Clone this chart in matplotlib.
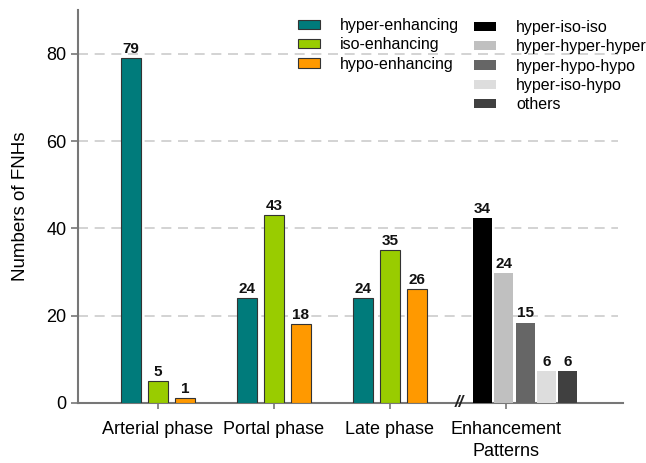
import numpy as np
import matplotlib
matplotlib.use("Agg")
import matplotlib.pyplot as plt
from matplotlib.patches import Patch

plt.rcParams['font.family'] = ['Liberation Sans', 'DejaVu Sans']

# phase data
phases = ['Arterial phase', 'Portal phase', 'Late phase']
hyper = [79, 24, 24]
iso = [5, 43, 35]
hypo = [1, 18, 26]

# enhancement patterns (bar heights as drawn, labels as printed)
patterns = ['hyper-iso-iso', 'hyper-hyper-hyper', 'hyper-hypo-hypo', 'hyper-iso-hypo', 'others']
pattern_heights = [42.3, 29.7, 18.4, 7.2, 7.2]
pattern_labels = ['34', '24', '15', '6', '6']

phase_colors = ['#007b7b', '#99cc00', '#ff9900']
pattern_colors = ['#000000', '#c0c0c0', '#666666', '#dddddd', '#404040']

fig = plt.figure(figsize=(6.46, 4.63), dpi=100)
ax = fig.add_axes([0.121, 0.130, 0.843, 0.848])

x = np.arange(len(phases))
w = 0.172
off = 0.233
series = [hyper, iso, hypo]
for i, vals in enumerate(series):
    xs = x + (i - 1) * off
    ax.bar(xs, vals, w, color=phase_colors[i], edgecolor='#333333', linewidth=0.8, zorder=3)
    for xi, v in zip(xs, vals):
        ax.text(xi, v + 0.5, str(v), ha='center', va='bottom', fontsize=11,
                fontweight='bold', color='#111111', zorder=4)

px = 3 - 0.203 + np.arange(len(patterns)) * 0.185
ax.bar(px, pattern_heights, 0.164, color=pattern_colors, linewidth=0, zorder=3)
for xi, h, lab in zip(px, pattern_heights, pattern_labels):
    ax.text(xi, h + 0.5, lab, ha='center', va='bottom', fontsize=11,
            fontweight='bold', color='#111111', zorder=4)

ax.set_xlim(-0.69, 4.01)
ax.set_ylim(0, 90)
ax.set_yticks([0, 20, 40, 60, 80])
ax.set_xticks([0, 1, 2, 3])
ax.set_xticklabels(phases + ['Enhancement\nPatterns'], fontsize=13, linespacing=1.4)
ax.tick_params(axis='y', labelsize=13, color='#777777', length=5, width=1.2)
ax.tick_params(axis='x', color='#777777', length=4, width=1.2, pad=9)
for yv in [20, 40, 60, 80]:
    ax.plot([-0.69, 3.97], [yv, yv], color='#cccccc', lw=1.2, ls=(0, (6, 4)), zorder=1)

for s in ['top', 'right']:
    ax.spines[s].set_visible(False)
for s in ['left', 'bottom']:
    ax.spines[s].set_color('#777777')
    ax.spines[s].set_linewidth(1.5)

ax.set_ylabel('Numbers of FNHs', fontsize=13.5, labelpad=12)

# axis break mark
ax.text(2.595, 0, '//', ha='center', va='center', fontsize=12, fontweight='bold',
        style='italic', color='#222222', clip_on=False, zorder=5)

h1 = [Patch(facecolor=c, edgecolor='#333333', linewidth=0.8) for c in phase_colors]
leg1 = ax.legend(h1, ['hyper-enhancing', 'iso-enhancing', 'hypo-enhancing'],
                 loc='upper left', bbox_to_anchor=(298 / 646, 1 - 18 / 463),
                 bbox_transform=fig.transFigure, frameon=False, fontsize=11.5,
                 handlelength=1.35, handleheight=0.5, handletextpad=1.3,
                 labelspacing=0.27, borderpad=0, borderaxespad=0)
ax.add_artist(leg1)
h2 = [Patch(facecolor=c, linewidth=0) for c in pattern_colors]
ax.legend(h2, patterns, loc='upper left', bbox_to_anchor=(474 / 646, 1 - 20 / 463),
          bbox_transform=fig.transFigure, frameon=False, fontsize=11.5,
          handlelength=1.35, handleheight=0.5, handletextpad=1.3,
          labelspacing=0.27, borderpad=0, borderaxespad=0)

fig.savefig('out.png', dpi=100)
